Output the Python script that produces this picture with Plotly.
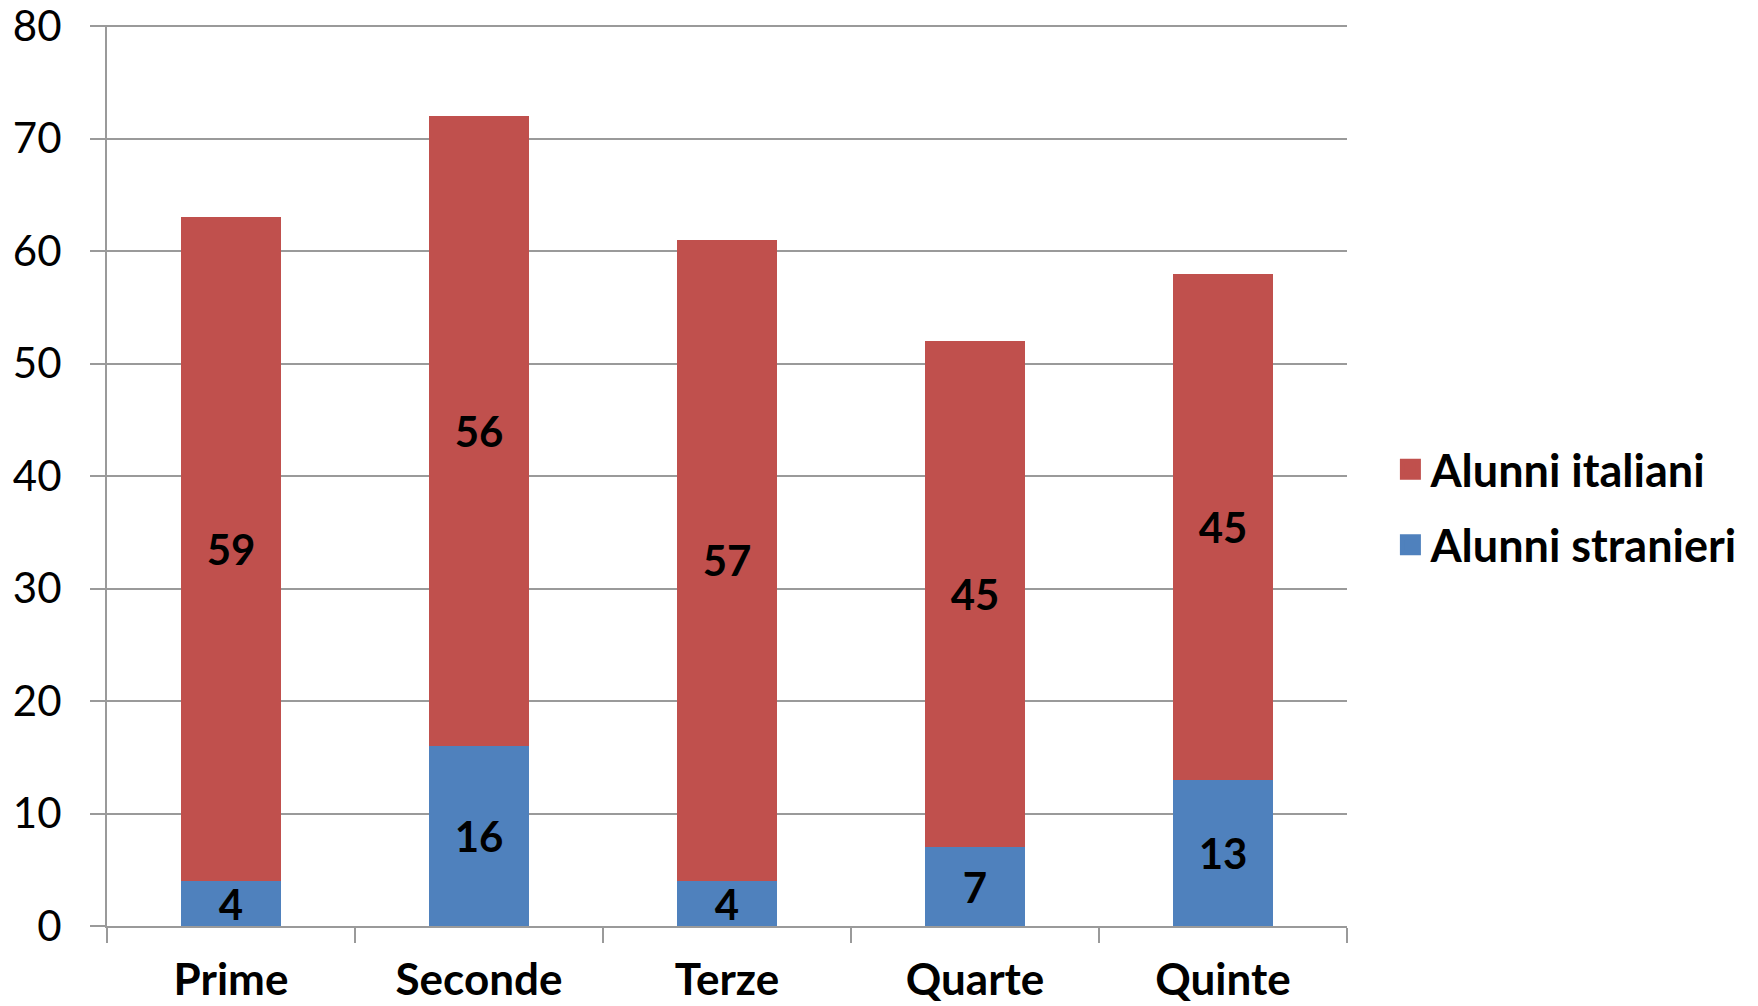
import plotly.graph_objects as go

categories = ["Prime", "Seconde", "Terze", "Quarte", "Quinte"]
stranieri = [4, 16, 4, 7, 13]
italiani = [59, 56, 57, 45, 45]
y_ticks = [0, 10, 20, 30, 40, 50, 60, 70, 80]

FONT = "Lato"
RED = "#C0504D"
BLUE = "#4F81BD"
GRID = "#9a9a9a"
label_font = dict(family=FONT, size=42, color="black", weight="bold")

fig = go.Figure()
fig.add_trace(go.Bar(
    x=categories, y=stranieri, name="Alunni stranieri",
    marker=dict(color=BLUE, line=dict(width=0)),
    text=stranieri, textposition="inside", insidetextanchor="middle",
    textangle=0, textfont=label_font, showlegend=False, constraintext="none",
))
fig.add_trace(go.Bar(
    x=categories, y=italiani, name="Alunni italiani",
    marker=dict(color=RED, line=dict(width=0)),
    text=italiani, textposition="inside", insidetextanchor="middle",
    textangle=0, textfont=label_font, showlegend=False, constraintext="none",
))
# legend entries with larger square swatches
fig.add_trace(go.Scatter(
    x=[None], y=[None], mode="markers", name="Alunni italiani",
    marker=dict(symbol="square", size=25, color=RED, line=dict(color=RED, width=5)),
    legendgroup="a",
))
fig.add_trace(go.Scatter(
    x=[None], y=[None], mode="markers", name="Alunni stranieri",
    marker=dict(symbol="square", size=25, color=BLUE, line=dict(color=BLUE, width=5)),
    legendgroup="b",
))

fig.update_layout(
    template="none",
    barmode="stack",
    bargap=0.6,
    width=1758, height=1006,
    margin=dict(l=107, r=411, t=25, b=80),
    paper_bgcolor="white", plot_bgcolor="white",
    uniformtext=dict(mode=False),
    font=dict(family=FONT, color="black"),
    showlegend=True,
    legend=dict(
        x=1.035, y=0.465, xanchor="left", yanchor="middle",
        traceorder="grouped",
        font=dict(family=FONT, size=45, color="black", weight="bold"),
        itemsizing="trace", tracegroupgap=14,
        bgcolor="rgba(0,0,0,0)",
    ),
    xaxis=dict(
        automargin=False,
        showline=True, linecolor=GRID, linewidth=2, showgrid=False,
        ticks="outside", tickson="boundaries", ticklen=15, tickwidth=2, tickcolor=GRID,
        tickfont=dict(family=FONT, size=44, color="black", weight="bold"),
        ticklabelstandoff=14, ticklabeloverflow="allow",
    ),
    yaxis=dict(
        automargin=False,
        range=[0, 80.1], tickvals=y_ticks,
        showline=True, linecolor=GRID, linewidth=2,
        showgrid=True, gridcolor=GRID, gridwidth=2,
        zeroline=False,
        ticks="outside", ticklen=15, tickwidth=2, tickcolor=GRID,
        tickfont=dict(family=FONT, size=42, color="black"),
        ticklabelstandoff=20, ticklabeloverflow="allow",
    ),
)

fig.write_html(
    "out.html",
    config={"displayModeBar": False},
    post_script="document.body.style.margin='0';document.body.style.overflow='hidden';",
)
